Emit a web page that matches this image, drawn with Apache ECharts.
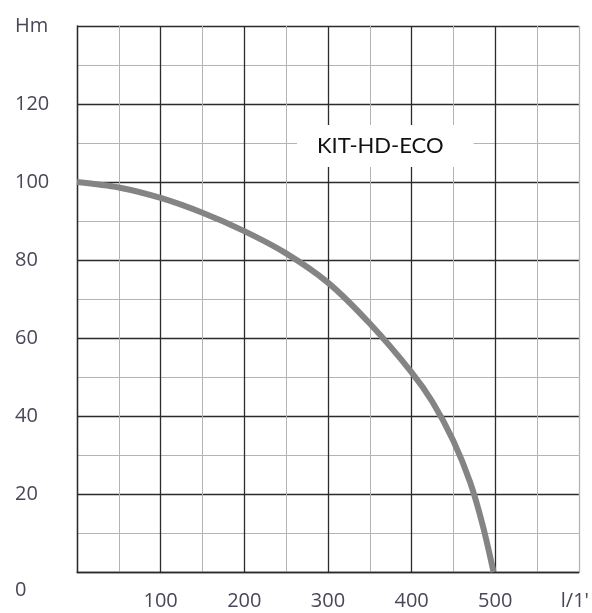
<!DOCTYPE html>
<html>
<head>
<meta charset="utf-8">
<script src="https://cdn.jsdelivr.net/npm/echarts@6/dist/echarts.min.js"></script>
<style>
html,body{margin:0;padding:0;background:#fff;}
#chart{width:592px;height:613px;}
</style>
</head>
<body>
<div id="chart"></div>
<script>
const seriesName = 'KIT-HD-ECO';
const flow = [0, 50, 100, 150, 200, 250, 300, 350, 400, 425, 450, 470, 485, 498];
const head = [100, 98.6, 95.9, 92.1, 87.4, 81.7, 74.2, 63.7, 51.2, 43.6, 33.6, 23.0, 12.0, 0];
const xTickLabels = ['', '100', '200', '300', '400', '500', "l/1'"];
const yTickLabels = ['0', '20', '40', '60', '80', '100', '120', 'Hm'];

const major = '#2b2b2b';
const minor = '#b4b4b4';
const labelColor = '#474759';
const labelFont = 'Open Sans';

const chart = echarts.init(document.getElementById('chart'));
chart.setOption({
  animation: false,
  backgroundColor: '#fff',
  grid: {left: 77, right: 11, top: 26, bottom: 41, containLabel: false},
  xAxis: {
    type: 'value', min: 0, max: 600, interval: 100,
    axisLine: {show: true, lineStyle: {color: major, width: 1.3}},
    axisTick: {show: false},
    minorTick: {show: false, splitNumber: 2},
    splitLine: {show: true, lineStyle: {color: [major, major, major, major, major, major, minor], width: 1.3}},
    minorSplitLine: {show: true, lineStyle: {color: minor, width: 1}},
    axisLabel: {
      margin: 19, color: labelColor, fontFamily: labelFont, fontSize: 20,
      formatter: function (v) {
        const t = xTickLabels[Math.round(v / 100)];
        return v === 600 ? '{u|' + t + '}' : t;
      },
      rich: {u: {padding: [0, 8, 0, 0], color: labelColor, fontFamily: labelFont, fontSize: 20}}
    }
  },
  yAxis: {
    type: 'value', min: 0, max: 140, interval: 20,
    axisLine: {show: true, lineStyle: {color: major, width: 1.3}},
    axisTick: {show: false},
    minorTick: {show: false, splitNumber: 2},
    splitLine: {show: true, lineStyle: {color: major, width: 1.3}},
    minorSplitLine: {show: true, lineStyle: {color: minor, width: 1}},
    axisLabel: {
      margin: 62, align: 'left', color: labelColor, fontFamily: labelFont, fontSize: 20,
      formatter: function (v) {
        const t = yTickLabels[Math.round(v / 20)];
        return v === 0 ? '{z|' + t + '}' : t;
      },
      rich: {z: {padding: [36, 0, 0, 0], color: labelColor, fontFamily: labelFont, fontSize: 20}}
    }
  },
  series: [{
    name: seriesName,
    type: 'line',
    data: flow.map((q, i) => [q, head[i]]),
    smooth: 0.3,
    showSymbol: false,
    lineStyle: {color: '#848484', width: 6},
    z: 5
  }],
  graphic: [{
    type: 'text', left: 297, top: 125, z: 100,
    style: {
      text: seriesName, font: '22px Lato', fill: '#111',
      backgroundColor: '#fff', padding: [10, 30, 10, 20]
    }
  }]
});
</script>
</body>
</html>
